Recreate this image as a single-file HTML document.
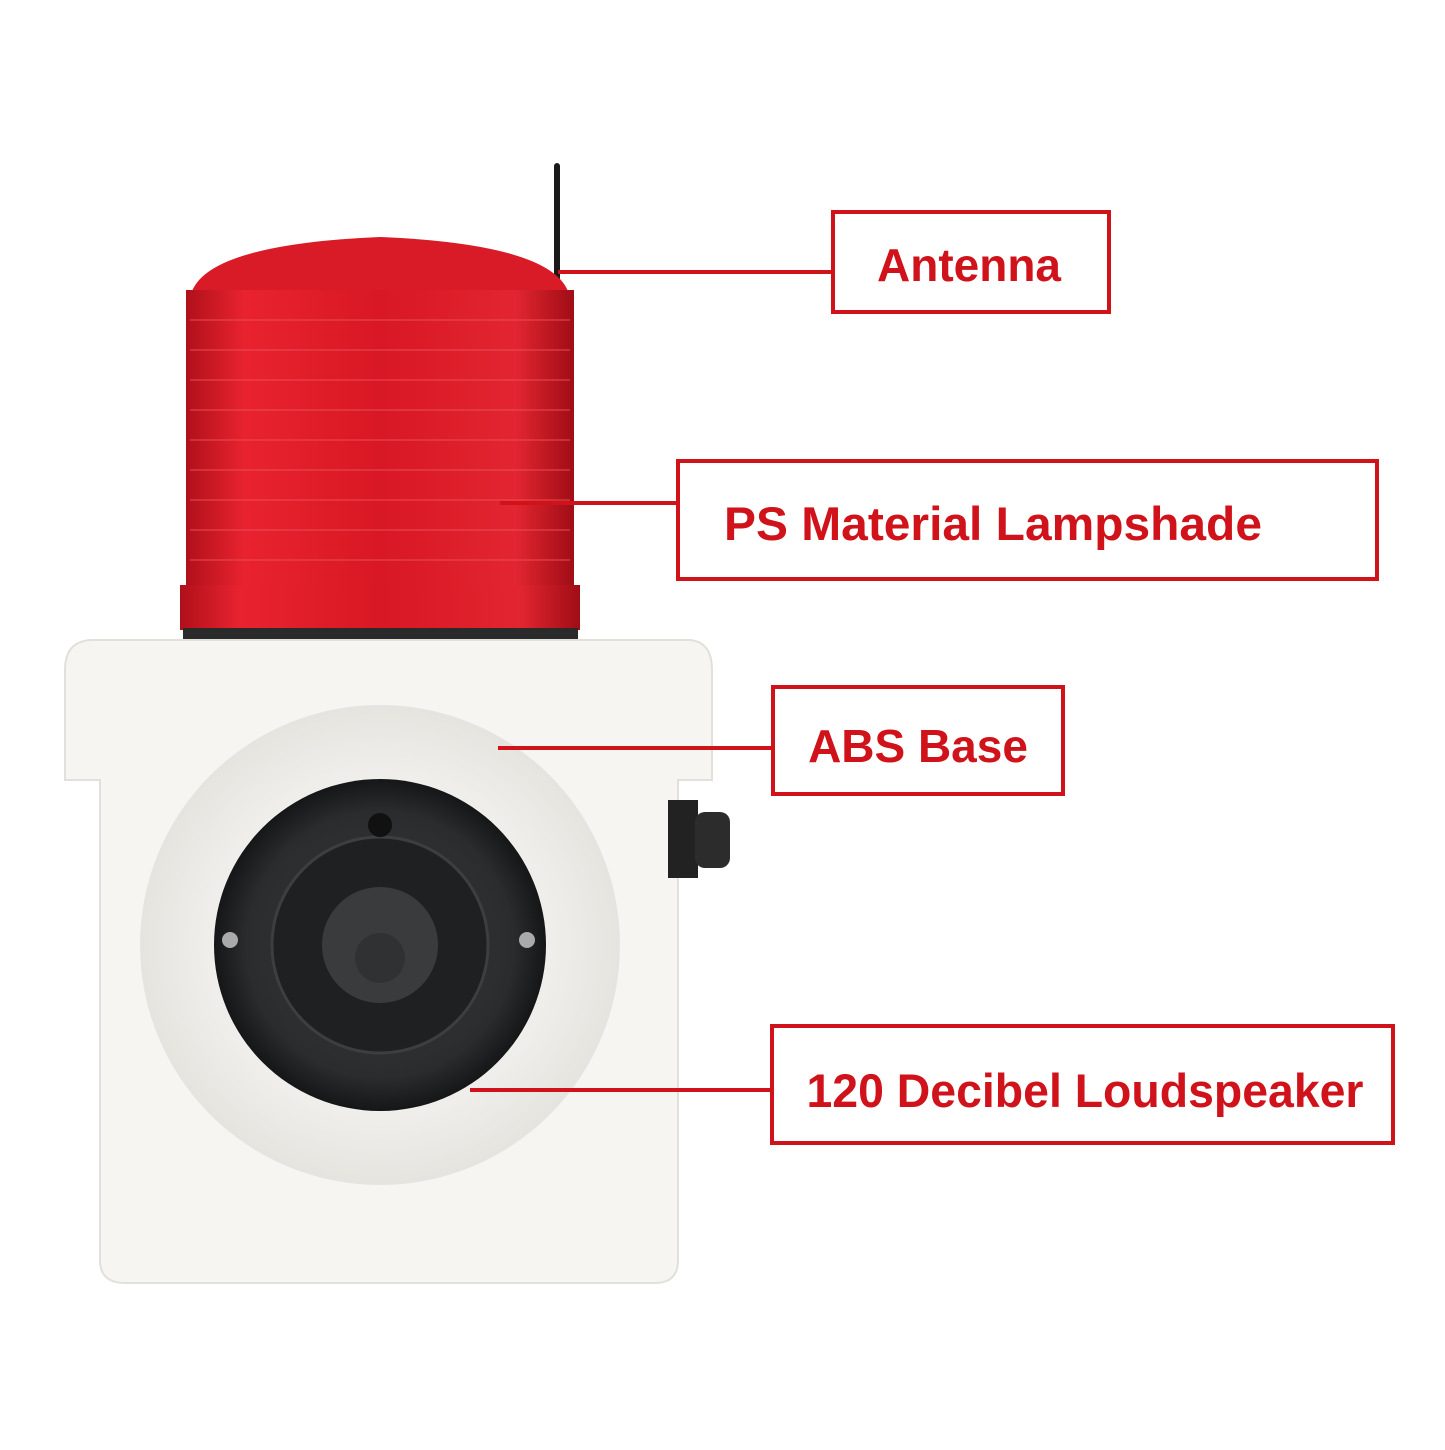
<!DOCTYPE html>
<html><head><meta charset="utf-8"><style>
body{margin:0;background:#fff;}
.lbl{font-family:"Liberation Sans",sans-serif;font-weight:bold;fill:#d0121b;}
</style></head><body>
<svg width="1445" height="1445" viewBox="0 0 1445 1445" xmlns="http://www.w3.org/2000/svg">
<defs>
<linearGradient id="red" x1="0" x2="1" y1="0" y2="0">
<stop offset="0" stop-color="#b0101a"/><stop offset="0.15" stop-color="#e8232f"/><stop offset="0.5" stop-color="#d81824"/><stop offset="0.85" stop-color="#e22530"/><stop offset="1" stop-color="#a00d16"/>
</linearGradient>
<radialGradient id="horn" cx="0.5" cy="0.5" r="0.5">
<stop offset="0.6" stop-color="#f3f2ef"/><stop offset="1" stop-color="#e6e4df"/>
</radialGradient>
<radialGradient id="spk" cx="0.5" cy="0.5" r="0.5">
<stop offset="0" stop-color="#3a3b3d"/><stop offset="0.8" stop-color="#2b2c2e"/><stop offset="1" stop-color="#151617"/>
</radialGradient>
</defs>
<rect width="1445" height="1445" fill="#fff"/>
<rect x="554" y="163" width="6" height="135" rx="3" fill="#1a1a1a"/>
<path d="M190 300 Q195 245 380 237 Q565 245 570 300 Z" fill="#d81b27"/>
<rect x="186" y="290" width="388" height="300" fill="url(#red)"/>
<rect x="180" y="585" width="400" height="45" fill="url(#red)"/>
<g stroke="#f0505a" stroke-width="1.5" opacity="0.6">
<line x1="190" y1="320" x2="570" y2="320"/><line x1="190" y1="350" x2="570" y2="350"/>
<line x1="190" y1="380" x2="570" y2="380"/><line x1="190" y1="410" x2="570" y2="410"/>
<line x1="190" y1="440" x2="570" y2="440"/><line x1="190" y1="470" x2="570" y2="470"/>
<line x1="190" y1="500" x2="570" y2="500"/><line x1="190" y1="530" x2="570" y2="530"/>
<line x1="190" y1="560" x2="570" y2="560"/>
</g>
<rect x="183" y="628" width="395" height="14" fill="#2a2a2a"/>
<path d="M90 640 L690 640 Q712 642 712 670 L712 780 L678 780 L678 1260 Q678 1283 655 1283 L125 1283 Q100 1283 100 1260 L100 780 L65 780 L65 670 Q65 642 90 640 Z" fill="#f6f5f2" stroke="#e2e0db" stroke-width="2"/>
<rect x="668" y="800" width="30" height="78" fill="#222"/>
<rect x="695" y="812" width="35" height="56" rx="10" fill="#2c2c2c"/>
<circle cx="380" cy="945" r="240" fill="url(#horn)"/>
<circle cx="380" cy="945" r="166" fill="url(#spk)"/>
<circle cx="380" cy="945" r="108" fill="#1f2022" stroke="#3d3e40" stroke-width="3"/>
<circle cx="380" cy="945" r="58" fill="#3a3b3d"/>
<circle cx="380" cy="958" r="25" fill="#303133"/>
<circle cx="230" cy="940" r="8" fill="#aaa"/><circle cx="527" cy="940" r="8" fill="#aaa"/>
<circle cx="380" cy="825" r="12" fill="#111"/>
<g stroke="#d0121b" stroke-width="4" fill="none">
<line x1="558" y1="272" x2="834" y2="272"/>
<rect x="833" y="212" width="276" height="100"/>
<line x1="500" y1="503" x2="679" y2="503"/>
<rect x="678" y="461" width="699" height="118"/>
<line x1="498" y1="748" x2="774" y2="748"/>
<rect x="773" y="687" width="290" height="107"/>
<line x1="470" y1="1090" x2="773" y2="1090"/>
<rect x="772" y="1026" width="621" height="117"/>
</g>
<text class="lbl" x="969" y="281" font-size="46" text-anchor="middle">Antenna</text>
<text class="lbl" x="993" y="540" font-size="47" text-anchor="middle" textLength="538" lengthAdjust="spacingAndGlyphs">PS Material Lampshade</text>
<text class="lbl" x="918" y="762" font-size="46" text-anchor="middle">ABS Base</text>
<text class="lbl" x="1085" y="1107" font-size="47" text-anchor="middle" textLength="557" lengthAdjust="spacingAndGlyphs">120 Decibel Loudspeaker</text>
</svg>
</body></html>
